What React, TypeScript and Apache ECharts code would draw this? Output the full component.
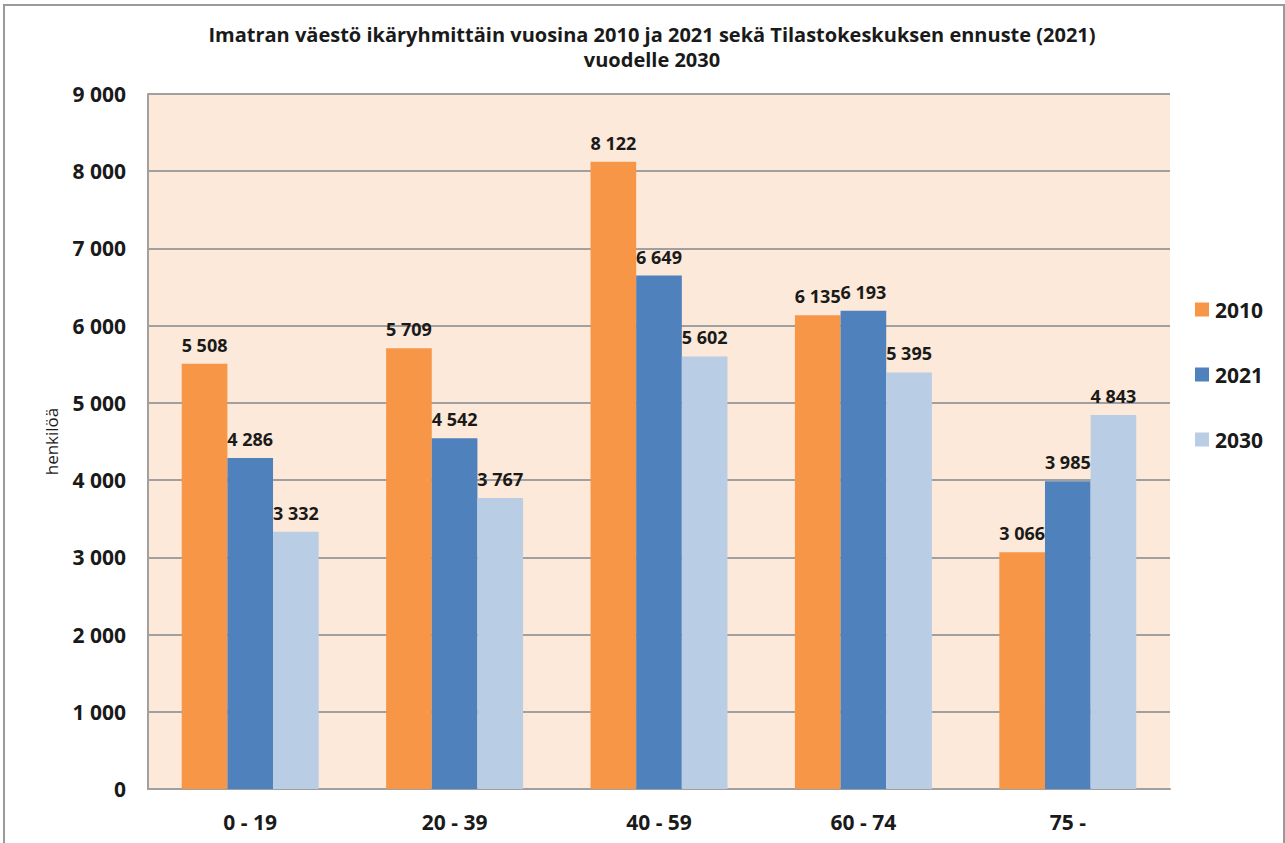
import React, { useEffect, useRef } from "react";
import * as echarts from "echarts";

const categories = ["0 - 19", "20 - 39", "40 - 59", "60 - 74", "75 -"];
const seriesNames = ["2010", "2021", "2030"];
const values2010 = [5508, 5709, 8122, 6135, 3066];
const values2021 = [4286, 4542, 6649, 6193, 3985];
const values2030 = [3332, 3767, 5602, 5395, 4843];
const colors = ["#F79646", "#4F81BD", "#B9CDE5"];
const yTicks = { min: 0, max: 9000, interval: 1000 };

const fmt = (v: number) => {
  const s = String(Math.round(v));
  return s.replace(/\B(?=(\d{3})+(?!\d))/g, " ");
};

const FONT = "'Open Sans', sans-serif";

export default function App() {
  const ref = useRef<HTMLDivElement>(null);
  useEffect(() => {
    if (!ref.current) return;
    const chart = echarts.init(ref.current, undefined, { renderer: "svg" });
    const data = [values2010, values2021, values2030];
    chart.setOption({
      animation: false,
      backgroundColor: "#ffffff",
      textStyle: { fontFamily: FONT },
      title: {
        text: "Imatran väestö ikäryhmittäin vuosina 2010 ja 2021 sekä Tilastokeskuksen ennuste (2021)\nvuodelle 2030",
        left: 647,
        textAlign: "center",
        top: 17,
        textStyle: {
          fontFamily: FONT,
          fontSize: 20,
          fontWeight: "bold",
          color: "#1a1a1a",
          lineHeight: 25,
        },
      },
      legend: {
        orient: "vertical",
        left: 1190,
        top: 294,
        itemGap: 44,
        itemWidth: 14,
        itemHeight: 14,
        icon: "rect",
        data: seriesNames,
        textStyle: { fontFamily: FONT, fontSize: 21, fontWeight: "bold", color: "#1a1a1a", padding: [0, 0, 0, 1] },
      },
      grid: { left: 148, right: 115, top: 94, bottom: 54 },
      xAxis: {
        type: "category",
        data: categories,
        axisTick: { show: false },
        axisLine: { lineStyle: { color: "#a0a0a0", width: 2 } },
        axisLabel: { fontFamily: FONT, fontSize: 21, fontWeight: "bold", color: "#1a1a1a", margin: 22 },
      },
      yAxis: {
        type: "value",
        min: yTicks.min,
        max: yTicks.max,
        interval: yTicks.interval,
        name: "henkilöä",
        nameLocation: "middle",
        nameGap: 88,
        nameTextStyle: { fontFamily: FONT, fontSize: 17, color: "#1a1a1a" },
        axisLine: { show: true, lineStyle: { color: "#a0a0a0", width: 2 } },
        axisTick: { show: false },
        splitLine: { lineStyle: { color: "#a0a0a0", width: 2 } },
        splitArea: { show: true, areaStyle: { color: ["#FDE9D9", "#FDE9D9"] } },
        axisLabel: { fontFamily: FONT, fontSize: 21, fontWeight: "bold", color: "#1a1a1a", margin: 22, formatter: (v: number) => fmt(v) },
      },
      series: seriesNames.map((name, i) => ({
        name,
        type: "bar",
        data: data[i],
        barGap: "0%",
        barCategoryGap: "33%",
        itemStyle: { color: colors[i] },
        label: {
          show: true,
          position: "top",
          distance: 10,
          fontFamily: FONT,
          fontSize: 18,
          fontWeight: "bold",
          color: "#1a1a1a",
          formatter: (p: any) => fmt(p.value),
        },
      })),
      graphic: [
        {
          type: "rect",
          shape: { x: 4, y: 5, width: 1280, height: 860 },
          style: { fill: "none", stroke: "#9a9a9a", lineWidth: 2 },
          silent: true,
        },
      ],
    });
    return () => chart.dispose();
  }, []);
  return <div ref={ref} style={{ position: "fixed", left: 0, top: 0, width: 1285, height: 843 }} />;
}
